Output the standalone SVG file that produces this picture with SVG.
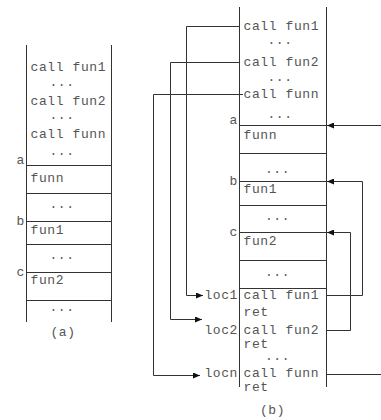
<svg xmlns="http://www.w3.org/2000/svg" width="381" height="420" viewBox="0 0 381 420">
  <style>
    .ln { stroke: #333; stroke-width: 1; fill: none; }
    .t { font-family: "Liberation Mono", "DejaVu Sans Mono", monospace; font-size: 13px; letter-spacing: 0.6px; fill: #555; }
    .m { text-anchor: middle; }
    .e { text-anchor: end; }
  </style>
  <defs>
    <marker id="ah" markerWidth="8" markerHeight="6" refX="7" refY="3" orient="auto" markerUnits="userSpaceOnUse">
      <path d="M0,0 L7,3 L0,6 Z" fill="#111"/>
    </marker>
  </defs>
  <rect width="381" height="420" fill="#fff"/>

  <!-- (a) -->
  <g id="stack-a">
    <path class="ln" d="M26.5,45 V322 M111.5,45 V322"/>
    <path class="ln" d="M26.5,165.5 H111.5 M26.5,193.5 H111.5 M26.5,221.5 H111.5 M26.5,244.5 H111.5 M26.5,272.5 H111.5 M26.5,300.5 H111.5"/>
    <text class="t" x="30.5" y="71">call fun1</text>
    <text class="t m" x="62" y="86">...</text>
    <text class="t" x="30.5" y="105">call fun2</text>
    <text class="t m" x="62" y="119">...</text>
    <text class="t" x="30.5" y="138">call funn</text>
    <text class="t m" x="62" y="155">...</text>
    <text class="t e" x="25" y="164">a</text>
    <text class="t" x="30.5" y="182">funn</text>
    <text class="t m" x="62" y="208">...</text>
    <text class="t e" x="25" y="225">b</text>
    <text class="t" x="30.5" y="234">fun1</text>
    <text class="t m" x="62" y="259">...</text>
    <text class="t e" x="25" y="276">c</text>
    <text class="t" x="30.5" y="284">fun2</text>
    <text class="t m" x="62" y="311">...</text>
    <text class="t m" x="63" y="336">(a)</text>
  </g>

  <!-- (b) -->
  <g id="stack-b">
    <path class="ln" d="M239.5,7 V387 M326.5,7 V387"/>
    <path class="ln" d="M239.5,125.5 H326.5 M239.5,153.5 H326.5 M239.5,181.5 H326.5 M239.5,205.5 H326.5 M239.5,232.5 H326.5 M239.5,260.5 H326.5 M239.5,288.5 H326.5"/>
    <text class="t" x="243.5" y="30">call fun1</text>
    <text class="t m" x="280" y="44">...</text>
    <text class="t" x="243.5" y="66">call fun2</text>
    <text class="t m" x="280" y="81">...</text>
    <text class="t" x="243.5" y="98">call funn</text>
    <text class="t m" x="280" y="118">...</text>
    <text class="t e" x="238" y="124">a</text>
    <text class="t" x="243.5" y="138.5">funn</text>
    <text class="t m" x="277.5" y="173">...</text>
    <text class="t e" x="238" y="185">b</text>
    <text class="t" x="243.5" y="193">fun1</text>
    <text class="t m" x="277.5" y="220">...</text>
    <text class="t e" x="238" y="236">c</text>
    <text class="t" x="243.5" y="245">fun2</text>
    <text class="t m" x="277.5" y="276">...</text>
    <text class="t e" x="238" y="299">loc1</text>
    <text class="t" x="243.5" y="299">call fun1</text>
    <text class="t" x="243.5" y="316">ret</text>
    <text class="t e" x="238" y="334">loc2</text>
    <text class="t" x="243.5" y="334">call fun2</text>
    <text class="t" x="243.5" y="348">ret</text>
    <text class="t m" x="277.5" y="360">...</text>
    <text class="t e" x="238" y="377">locn</text>
    <text class="t" x="243.5" y="377">call funn</text>
    <text class="t" x="243.5" y="391">ret</text>
    <text class="t m" x="272.5" y="414">(b)</text>
  </g>

  <g id="connectors">
    <path class="ln" d="M239.5,26.5 H186.5 V295.5 H203" marker-end="url(#ah)"/>
    <path class="ln" d="M239.5,62.5 H170.5 V319.5 H202" marker-end="url(#ah)"/>
    <path class="ln" d="M243,94.5 H153.5 V375.5 H200" marker-end="url(#ah)"/>
    <path class="ln" d="M381,125.5 H327" marker-end="url(#ah)"/>
    <path class="ln" d="M326.5,295.5 H362.5 V181.5 H327" marker-end="url(#ah)"/>
    <path class="ln" d="M326.5,330.5 H350.5 V232.5 H327" marker-end="url(#ah)"/>
    <path class="ln" d="M326.5,374.5 H381"/>
  </g>
</svg>
